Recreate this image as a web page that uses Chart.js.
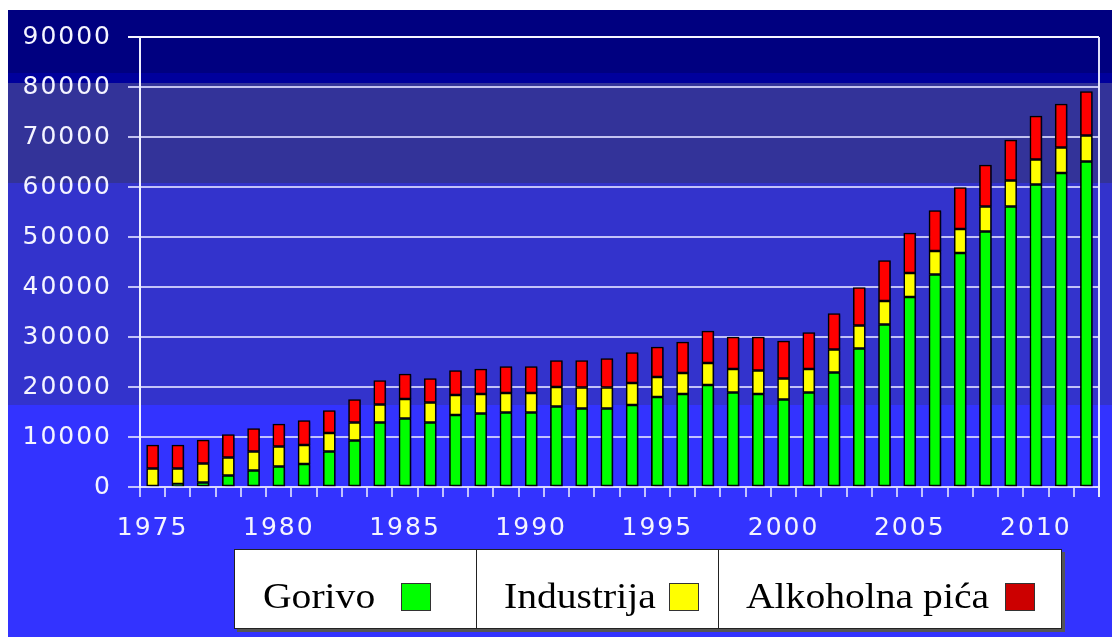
<!DOCTYPE html>
<html>
<head>
<meta charset="utf-8">
<script src="https://cdn.jsdelivr.net/npm/chart.js@4.4.1/dist/chart.umd.min.js"></script>
<style>
html,body{margin:0;padding:0;background:#fff;}
#wrap{position:relative;width:1112px;height:637px;overflow:hidden;}
#c{position:absolute;left:0;top:0;}
#legend{position:absolute;left:234px;top:549px;width:828px;height:80px;background:#fff;border:1.5px solid #222;box-sizing:border-box;box-shadow:3px 3px 0 #555;font-family:"Liberation Serif","Times New Roman",serif;font-size:36px;color:#000;}
.cell{position:absolute;top:0;height:100%;box-sizing:border-box;border-right:1.5px solid #222;}
.cell:last-child{border-right:none;}
.txt{position:absolute;top:28px;line-height:36px;white-space:nowrap;transform:scaleX(1.1);transform-origin:0 50%;}
.sw{position:absolute;top:33px;width:30px;height:28px;border:1.5px solid #333;box-sizing:border-box;}
</style>
</head>
<body>
<div id="wrap">
<canvas id="c" width="1112" height="637"></canvas>
<div id="legend"></div>
</div>
<script>
// ---- data ----
const years = [1975,1976,1977,1978,1979,1980,1981,1982,1983,1984,1985,1986,1987,1988,1989,1990,1991,1992,1993,1994,1995,1996,1997,1998,1999,2000,2001,2002,2003,2004,2005,2006,2007,2008,2009,2010,2011,2012];
const gorivo =     [0,600,900,2300,3300,4100,4600,7100,9300,12900,13700,12900,14400,14700,14900,14900,16100,15700,15700,16400,18000,18600,20400,18900,18600,17500,18900,22900,27700,32500,38000,42500,46800,51100,56100,60500,62800,65100];
const industrija = [3700,3100,3800,3600,3800,4000,3800,3700,3600,3600,3900,4000,4000,3900,3900,3900,3900,4200,4200,4400,4000,4200,4400,4700,4700,4200,4700,4600,4600,4700,4800,4700,4800,5000,5200,5000,5100,5200];
const alkohol =    [4700,4700,4700,4600,4600,4500,4900,4500,4600,4800,5000,4800,4900,5000,5300,5300,5300,5400,5800,6100,6000,6200,6400,6400,6700,7500,7300,7200,7600,8100,8000,8100,8300,8300,8100,8700,8700,8800];
const yearLabels = [1975,1980,1985,1990,1995,2000,2005,2010];
const yTickValues = [0,10000,20000,30000,40000,50000,60000,70000,80000,90000];
const seriesNames = ['Gorivo','Industrija','Alkoholna pića'];
const barColors = ['#00ff00','#ffff00','#ff0000'];
const swatchColors = ['#00ff00','#ffff00','#cc0000'];

// ---- legend (HTML) ----
const legendCells = [
  {left:0,   width:242, txt:28, sw:166},
  {left:242, width:242, txt:27, sw:192},
  {left:484, width:344, txt:27, sw:286}
];
const lg = document.getElementById('legend');
seriesNames.forEach((n,i)=>{
  const c = document.createElement('div');
  c.className='cell';
  c.style.left = legendCells[i].left+'px';
  c.style.width = legendCells[i].width+'px';
  const t = document.createElement('span');
  t.className='txt'; t.textContent=n; t.style.left=legendCells[i].txt+'px';
  const s = document.createElement('span');
  s.className='sw'; s.style.background=swatchColors[i]; s.style.left=legendCells[i].sw+'px';
  c.appendChild(t); c.appendChild(s); lg.appendChild(c);
});

// ---- plugins ----
const bgPlugin = {
  id:'bg',
  beforeDraw(chart){
    const ctx = chart.ctx;
    ctx.save();
    ctx.fillStyle='#ffffff'; ctx.fillRect(0,0,chart.width,chart.height);
    const bands = [[10,73,'#000080'],[73,83,'#00009c'],[83,183,'#333399'],[183,405,'#3333cc'],[405,637,'#3333ff']];
    bands.forEach(b=>{ctx.fillStyle=b[2]; ctx.fillRect(8,b[0],chart.width-8,b[1]-b[0]);});
    ctx.restore();
    ctx.letterSpacing='2px';
  },
  afterDraw(chart){
    const ctx = chart.ctx, a = chart.chartArea;
    ctx.letterSpacing='0px';
    ctx.save();
    ctx.strokeStyle='rgba(235,235,255,0.95)'; ctx.lineWidth=2;
    ctx.beginPath(); ctx.moveTo(a.right,a.top); ctx.lineTo(a.right,a.bottom+10); ctx.stroke();
    ctx.restore();
  }
};
const shadowPlugin = {
  id:'shadow',
  beforeDatasetsDraw(chart){
    const ctx=chart.ctx; ctx.save();
    ctx.shadowColor='rgba(0,0,50,0.55)'; ctx.shadowOffsetX=3; ctx.shadowOffsetY=1; ctx.shadowBlur=2;
  },
  afterDatasetsDraw(chart){ chart.ctx.restore(); }
};

const series = [gorivo, industrija, alkohol];
const gridCol = 'rgba(220,220,255,0.85)';
new Chart(document.getElementById('c'), {
  type:'bar',
  data:{
    labels: years.map(String),
    datasets: series.map((d,i)=>({
      label: seriesNames[i], data: d,
      backgroundColor: barColors[i], borderColor:'#000', borderWidth:1.6, borderSkipped:false,
      barThickness:12
    }))
  },
  options:{
    responsive:false, animation:false, devicePixelRatio:1,
    layout:{padding:{left:0,top:37,right:13,bottom:0}},
    plugins:{legend:{display:false}, tooltip:{enabled:false}},
    scales:{
      x:{
        stacked:true, offset:true,
        grid:{offset:true, drawOnChartArea:false, drawTicks:true, tickLength:10, color:gridCol, lineWidth:2},
        border:{display:true, color:gridCol, width:2},
        ticks:{autoSkip:false, maxRotation:0, minRotation:0, padding:16, color:'#f4f4ff',
          font:{family:'DejaVu Sans', size:25},
          callback:(v,i)=> yearLabels.includes(years[i]) ? String(years[i]) : ''},
        afterFit(s){ s.height = 150; }
      },
      y:{
        stacked:true, min:0, max:90000,
        afterBuildTicks(s){ s.ticks = yTickValues.map(v=>({value:v})); },
        grid:{color:(c)=> c.tick && c.tick.value===90000 ? 'rgba(245,245,255,1)' : gridCol, lineWidth:2, tickLength:12},
        border:{display:true, color:'rgba(240,240,255,1)', width:2},
        ticks:{padding:16, color:'#f4f4ff', font:{family:'DejaVu Sans', size:25}, callback:(v)=>String(v)},
        afterFit(s){ s.width = 140; }
      }
    }
  },
  plugins:[bgPlugin, shadowPlugin]
});
</script>
</body>
</html>
